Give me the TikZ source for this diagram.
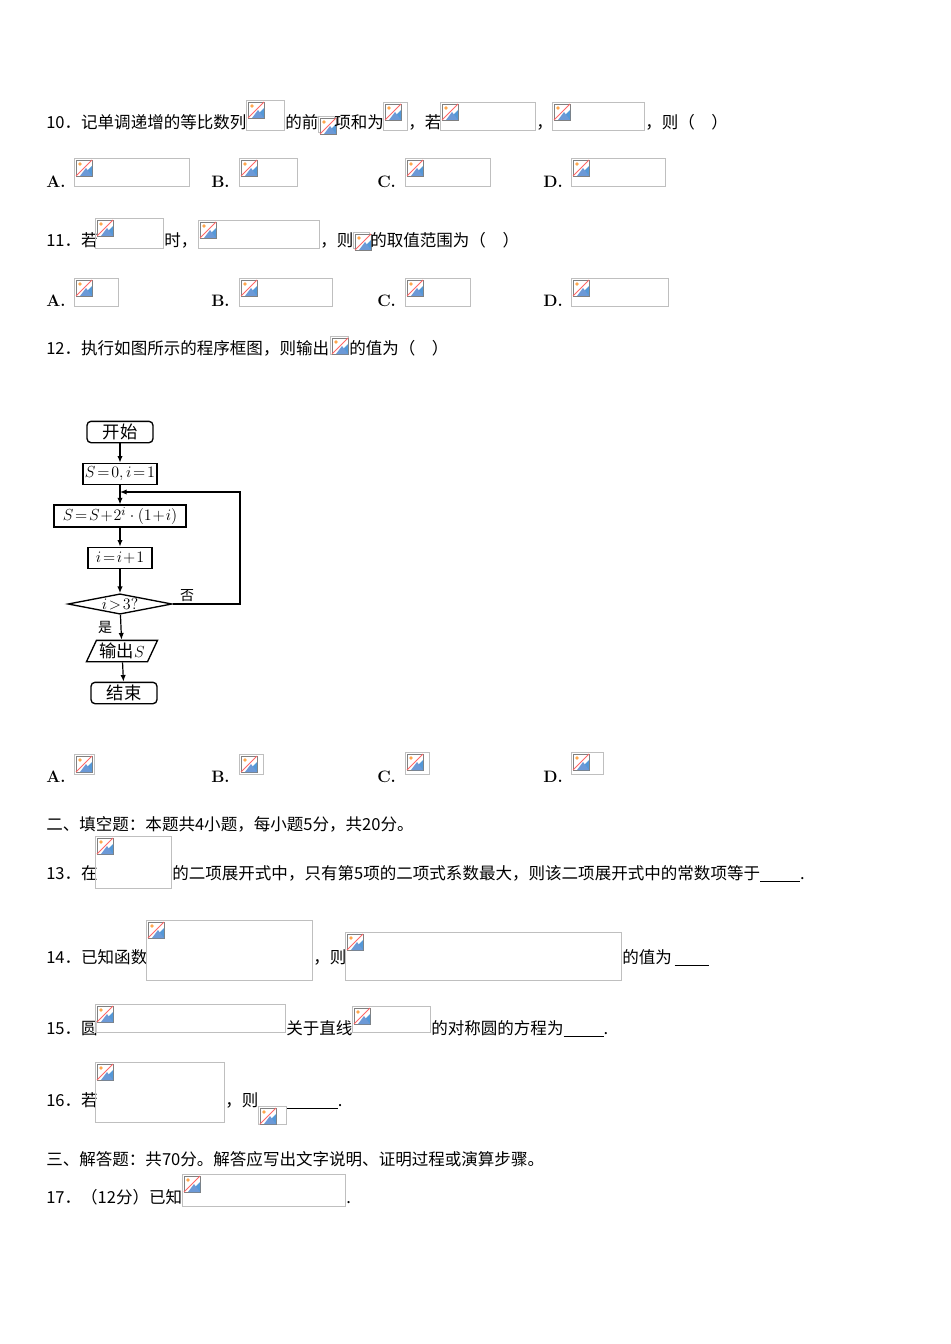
\documentclass[tikz,border=0pt]{standalone}
\usepackage{fontspec}
\newfontfamily\cjk{Noto Sans CJK SC}
\usetikzlibrary{shapes.geometric,arrows.meta}
\newcommand\bimg[4]{%
  \draw[black!25,line width=0.5pt] (#1,#2) rectangle ++(#3,#4);
  \begin{scope}[shift={(#1+2,#2+2)}]
    \fill[white] (0,0) rectangle (16,16);
    \draw[black!50,line width=0.4pt] (0,0) rectangle (16,16);
    \fill[cyan!60!blue!70] (16,16) -- (16,6) -- (6,16) -- cycle;
    \fill[cyan!50!blue!60] (4,16) -- (10,8) -- (16,16) -- cycle;
    \fill[orange!70] (4,4) circle (1.8);
    \draw[red!60,line width=0.7pt] (0,16) -- (16,0);
  \end{scope}}
\begin{document}
\begin{tikzpicture}[x=0.75pt,y=-0.75pt,
  t/.style={anchor=base west,inner sep=0,font=\cjk\fontsize{12.4}{14}\selectfont},
  opt/.style={anchor=base west,inner sep=0,font=\bfseries\fontsize{12.4}{14}\selectfont},
  fb/.style={draw,line width=1pt,inner sep=1.5pt,font=\fontsize{13}{15}\selectfont},
  arr/.style={-{Latex[length=5pt,width=4pt]},line width=0.9pt}]
\useasboundingbox (0,0) rectangle (950,1344);
% Q10
\node[t] at (46,129) {10．记单调递增的等比数列};
\bimg{246}{100}{38}{30}
\node[t] at (285,129) {的前};
\bimg{318}{116}{16}{16}
\node[t] at (334,129) {项和为};
\bimg{383}{102}{24}{28}
\node[t] at (408,129) {，若};
\bimg{440}{102}{95}{28}
\node[t] at (536,129) {，};
\bimg{552}{102}{92}{28}
\node[t] at (645,129) {，则（\quad ）};
\node[opt] at (46,188) {A.}; \bimg{74}{158}{115}{28}
\node[opt] at (211,188) {B.}; \bimg{239}{158}{58}{28}
\node[opt] at (377,188) {C.}; \bimg{405}{158}{85}{28}
\node[opt] at (543,188) {D.}; \bimg{571}{158}{94}{28}
% Q11
\node[t] at (46,247) {11．若};
\bimg{95}{218}{68}{30}
\node[t] at (164,247) {时，};
\bimg{198}{220}{121}{28}
\node[t] at (320,247) {，则};
\bimg{353}{232}{16}{16}
\node[t] at (370,247) {的取值范围为（\quad ）};
\node[opt] at (46,306) {A.}; \bimg{74}{278}{44}{28}
\node[opt] at (211,306) {B.}; \bimg{239}{278}{93}{28}
\node[opt] at (377,306) {C.}; \bimg{405}{278}{65}{28}
\node[opt] at (543,306) {D.}; \bimg{571}{278}{97}{28}
% Q12
\node[t] at (46,354) {12．执行如图所示的程序框图，则输出};
\bimg{330}{336}{18}{18}
\node[t] at (349,354) {的值为（\quad ）};
% flowchart
\node[fb,rounded corners=3pt,minimum width=66pt*0.75,minimum height=16pt] (st) at (120,432) {\cjk 开始};
\node[fb,minimum width=74pt*0.75,minimum height=16pt] (s0) at (120,474) {$S\!=\!0,i\!=\!1$};
\node[fb,minimum width=132pt*0.75,minimum height=16pt] (s1) at (120,516) {$S\!=\!S\!+\!2^{i}\cdot(1\!+\!i)$};
\node[fb,minimum width=64pt*0.75,minimum height=16pt] (s2) at (120,558) {$i\!=\!i\!+\!1$};
\node[fb,diamond,aspect=5,inner sep=0.5pt,minimum width=104pt*0.75] (dc) at (120,604) {$i\!>\!3?$};
\node[fb,trapezium,trapezium left angle=65,trapezium right angle=115,minimum height=16pt,inner xsep=1pt] (out) at (122,651) {\cjk 输出$S$};
\node[fb,rounded corners=3pt,minimum width=66pt*0.75,minimum height=16pt] (en) at (124,693) {\cjk 结束};
\coordinate (j) at (120,492);
\draw[arr] (st) -- (s0);
\draw[arr] (s0) -- (s1);
\draw[arr] (s1) -- (s2);
\draw[arr] (s2) -- (dc);
\draw[arr] (dc) -- (out);
\draw[arr] (out) -- (en);
\draw[arr] (dc.east) -- (240,604) -- (240,492) -- (j);
\node[font=\cjk\fontsize{10.5}{12}\selectfont] at (187,596) {否};
\node[font=\cjk\fontsize{10.5}{12}\selectfont] at (105,627) {是};
% Q12 options
\node[opt] at (46,782) {A.}; \bimg{74}{754}{20}{20}
\node[opt] at (211,782) {B.}; \bimg{239}{754}{24}{20}
\node[opt] at (377,782) {C.}; \bimg{405}{752}{24}{22}
\node[opt] at (543,782) {D.}; \bimg{571}{752}{32}{22}
% section 2
\node[t] at (46,830) {二、填空题：本题共4小题，每小题5分，共20分。};
\node[t] at (46,879) {13．在};
\bimg{95}{836}{76}{52}
\node[t] at (172,879) {的二项展开式中，只有第5项的二项式系数最大，则该二项展开式中的常数项等于\underline{\hspace{30pt}}.};
\node[t] at (46,963) {14．已知函数};
\bimg{146}{920}{166}{60}
\node[t] at (313,963) {，则};
\bimg{345}{932}{276}{48}
\node[t] at (622,963) {的值为\,\underline{\hspace{26pt}}};
\node[t] at (46,1034) {15．圆};
\bimg{95}{1004}{190}{28}
\node[t] at (286,1034) {关于直线};
\bimg{352}{1006}{78}{26}
\node[t] at (431,1034) {的对称圆的方程为\underline{\hspace{30pt}}.};
\node[t] at (46,1106) {16．若};
\bimg{95}{1062}{129}{60}
\node[t] at (225,1106) {，则};
\bimg{258}{1106}{28}{18}
\node[t] at (287,1106) {\underline{\hspace{38pt}}.};
\node[t] at (46,1165) {三、解答题：共70分。解答应写出文字说明、证明过程或演算步骤。};
\node[t] at (46,1203) {17．（12分）已知};
\bimg{182}{1174}{163}{32}
\node[t] at (346,1203) {.};
\end{tikzpicture}
\end{document}
